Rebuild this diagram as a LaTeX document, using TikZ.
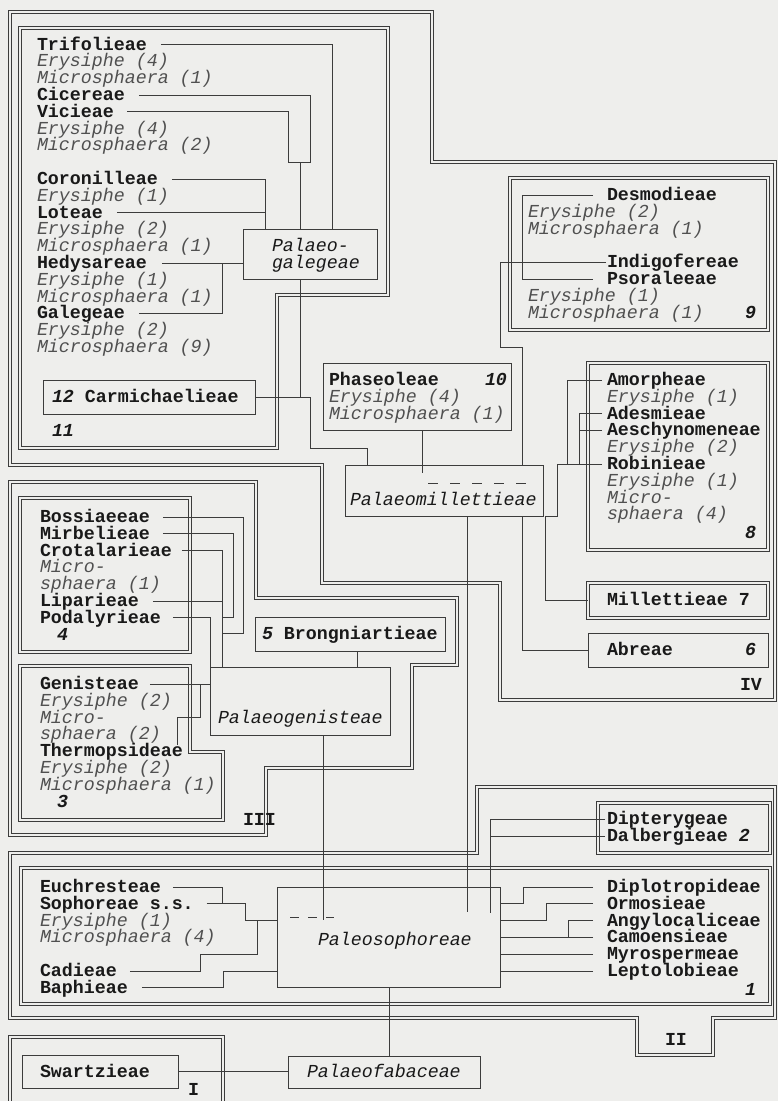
\documentclass[tikz,border=0pt]{standalone}
\usepackage{fontspec}
\newfontfamily\mono{Liberation Mono}
\definecolor{bg}{RGB}{238,238,236}
\definecolor{ln}{RGB}{60,60,60}
\definecolor{tx}{RGB}{25,25,25}
\definecolor{tl}{RGB}{80,80,80}
\tikzset{
 txt/.style={anchor=west, inner sep=0pt, outer sep=0pt, text height=11pt, text depth=0pt, text=tx},
 tb/.style={txt, font=\mono\fontsize{18.3}{18}\selectfont\bfseries},
 ti/.style={txt, font=\mono\fontsize{18.3}{18}\selectfont\itshape, text=tl},
 tk/.style={txt, font=\mono\fontsize{18.3}{18}\selectfont\itshape},
 tn/.style={txt, font=\mono\fontsize{18.3}{18}\selectfont\bfseries\itshape},
 con/.style={draw=ln, line width=0.7pt},
 sbox/.style={draw=ln, line width=0.8pt, anchor=north west, inner sep=0pt, outer sep=0pt},
 dbl/.style={draw=ln, line width=0.8pt, double=bg, double distance=2.6pt},
 dbox/.style={dbl, anchor=north west, inner sep=0pt, outer sep=0pt},
}
\begin{document}
\begin{tikzpicture}[x=1pt,y=-1pt]
\fill[bg] (0,0) rectangle (778,1101);
\useasboundingbox (0,0) rectangle (778,1101);

% ---------- group outlines ----------
\draw[dbl] (10,12) -- (432,12) -- (432,162) -- (775,162) -- (775,700) -- (500,700) -- (500,583) -- (322,583) -- (322,465) -- (10,465) -- cycle;
\draw[dbl] (20,28) -- (388,28) -- (388,295) -- (277,295) -- (277,448) -- (20,448) -- cycle;
\draw[dbl] (10,482) -- (256,482) -- (256,598) -- (457,598) -- (457,665) -- (412,665) -- (412,768) -- (266,768) -- (266,835) -- (10,835) -- cycle;
\draw[dbl] (20,666) -- (190,666) -- (190,752) -- (223,752) -- (223,820) -- (20,820) -- cycle;
\draw[dbl] (10,853) -- (477,853) -- (477,787) -- (775,787) -- (775,1018) -- (713,1018) -- (713,1055) -- (637,1055) -- (637,1018) -- (10,1018) -- cycle;
\draw[dbl] (10,1110) -- (10,1037) -- (223,1037) -- (223,1110);

% ---------- double boxes ----------
\node[dbox, minimum width=258, minimum height=152] (box9) at (510,178) {};
\node[dbox, minimum width=180, minimum height=187] (box8) at (588,363) {};
\node[dbox, minimum width=180, minimum height=35] (box7) at (588,583) {};
\node[dbox, minimum width=170, minimum height=154] (box4) at (20,498) {};
\node[dbox, minimum width=172, minimum height=50] (box2) at (598,803) {};
\node[dbox, minimum width=749, minimum height=136] (box1) at (21,868) {};

% ---------- single boxes ----------
\node[sbox, minimum width=134, minimum height=50] (pgal) at (243,229) {};
\node[sbox, minimum width=212, minimum height=34] (carm) at (43,380) {};
\node[sbox, minimum width=188, minimum height=67] (phas) at (323,363) {};
\node[sbox, minimum width=198, minimum height=51] (pmil) at (345,465) {};
\node[sbox, minimum width=180, minimum height=34] (abre) at (588,633) {};
\node[sbox, minimum width=190, minimum height=34] (brong) at (255,617) {};
\node[sbox, minimum width=180, minimum height=68] (pgen) at (210,667) {};
\node[sbox, minimum width=223, minimum height=100] (psoph) at (277,887) {};
\node[sbox, minimum width=156, minimum height=33] (swar) at (22,1055) {};
\node[sbox, minimum width=192, minimum height=32] (pfab) at (288,1056) {};

% ---------- box 11 texts ----------
\node[tb] (trif) at (37,44.5) {Trifolieae};
\node[ti] (e1) at (37,61.3) {Erysiphe (4)};
\node[ti] (m1) at (37,78.1) {Microsphaera (1)};
\node[tb] (cice) at (37,94.9) {Cicereae};
\node[tb] (vici) at (37,111.7) {Vicieae};
\node[ti] (e2) at (37,128.5) {Erysiphe (4)};
\node[ti] (m2) at (37,145.3) {Microsphaera (2)};
\node[tb] (coro) at (37,178.9) {Coronilleae};
\node[ti] (e3) at (37,195.7) {Erysiphe (1)};
\node[tb] (lote) at (37,212.5) {Loteae};
\node[ti] (e4) at (37,229.3) {Erysiphe (2)};
\node[ti] (m4) at (37,246.1) {Microsphaera (1)};
\node[tb] (hedy) at (37,262.9) {Hedysareae};
\node[ti] (e5) at (37,279.7) {Erysiphe (1)};
\node[ti] (m5) at (37,296.5) {Microsphaera (1)};
\node[tb] (gale) at (37,313.3) {Galegeae};
\node[ti] (e6) at (37,330.1) {Erysiphe (2)};
\node[ti] (m6) at (37,346.9) {Microsphaera (9)};
\node[tb] (carmt) at (52,397) {\textit{12} Carmichaelieae};
\node[tn] (n11) at (52,431) {11};
\node[tk] (pgal1) at (272,246) {Palaeo-};
\node[tk] (pgal2) at (272,263) {galegeae};

% ---------- box 9 texts ----------
\node[tb] (desm) at (607,195) {Desmodieae};
\node[ti] (e9a) at (528,211.8) {Erysiphe (2)};
\node[ti] (m9a) at (528,228.6) {Microsphaera (1)};
\node[tb] (indi) at (607,262.2) {Indigofereae};
\node[tb] (psor) at (607,279) {Psoraleeae};
\node[ti] (e9b) at (528,295.8) {Erysiphe (1)};
\node[ti] (m9b) at (528,312.6) {Microsphaera (1)};
\node[tn] (n9) at (745,312.6) {9};

% ---------- box 10 / Palaeomillettieae ----------
\node[tb] (phast) at (329,380) {Phaseoleae};
\node[tn] (n10) at (485,380) {10};
\node[ti] (e10) at (329,396.8) {Erysiphe (4)};
\node[ti] (m10) at (329,413.6) {Microsphaera (1)};
\node[tk] (pmilt) at (350,500) {Palaeomillettieae};

% ---------- box 8 ----------
\node[tb] (amor) at (607,380) {Amorpheae};
\node[ti] (e8a) at (607,396.8) {Erysiphe (1)};
\node[tb] (ades) at (607,413.6) {Adesmieae};
\node[tb] (aesc) at (607,430.4) {Aeschynomeneae};
\node[ti] (e8b) at (607,447.2) {Erysiphe (2)};
\node[tb] (robi) at (607,464) {Robinieae};
\node[ti] (e8c) at (607,480.8) {Erysiphe (1)};
\node[ti] (m8a) at (607,497.6) {Micro-};
\node[ti] (m8b) at (607,514.4) {sphaera (4)};
\node[tn] (n8) at (745,533) {8};
\node[tb] (mill) at (607,600) {Millettieae 7};
\node[tb] (abret) at (607,650) {Abreae};
\node[tn] (n6) at (745,650) {6};
\node[tb] (lIV) at (740,685) {IV};

% ---------- box 4 ----------
\node[tb] (boss) at (40,517) {Bossiaeeae};
\node[tb] (mirb) at (40,533.8) {Mirbelieae};
\node[tb] (crot) at (40,550.6) {Crotalarieae};
\node[ti] (m4a) at (40,567.4) {Micro-};
\node[ti] (m4b) at (40,584.2) {sphaera (1)};
\node[tb] (lipa) at (40,601) {Liparieae};
\node[tb] (poda) at (40,617.8) {Podalyrieae};
\node[tn] (n4) at (57,634.6) {4};
\node[tb] (brongt) at (262,634) {\textit{5} Brongniartieae};
\node[tk] (pgent) at (218,718) {Palaeogenisteae};

% ---------- box 3 ----------
\node[tb] (geni) at (40,684) {Genisteae};
\node[ti] (e3a) at (40,700.8) {Erysiphe (2)};
\node[ti] (m3a) at (40,717.6) {Micro-};
\node[ti] (m3b) at (40,734.4) {sphaera (2)};
\node[tb] (ther) at (40,751.2) {Thermopsideae};
\node[ti] (e3b) at (40,768) {Erysiphe (2)};
\node[ti] (m3c) at (40,784.8) {Microsphaera (1)};
\node[tn] (n3) at (57,801.6) {3};
\node[tb] (lIII) at (243,820) {III};

% ---------- box 2 / box 1 ----------
\node[tb] (dipt) at (607,819) {Dipterygeae};
\node[tb] (dalb) at (607,836) {Dalbergieae \textit{2}};
\node[tb] (euch) at (40,887) {Euchresteae};
\node[tb] (soph) at (40,903.8) {Sophoreae s.s.};
\node[ti] (e1a) at (40,920.6) {Erysiphe (1)};
\node[ti] (m1a) at (40,937.4) {Microsphaera (4)};
\node[tb] (cadi) at (40,971) {Cadieae};
\node[tb] (baph) at (40,987.8) {Baphieae};
\node[tk] (psopht) at (318,940) {Paleosophoreae};
\node[tb] (dipl) at (607,887) {Diplotropideae};
\node[tb] (ormo) at (607,903.8) {Ormosieae};
\node[tb] (angy) at (607,920.6) {Angylocaliceae};
\node[tb] (camo) at (607,937.4) {Camoensieae};
\node[tb] (myro) at (607,954.2) {Myrospermeae};
\node[tb] (lept) at (607,971) {Leptolobieae};
\node[tn] (n1) at (745,990) {1};
\node[tb] (lII) at (665,1040) {II};

% ---------- group I ----------
\node[tb] (swart) at (40,1072) {Swartzieae};
\node[tb] (lI) at (188,1090) {I};
\node[tk] (pfabt) at (307,1072) {Palaeofabaceae};

% ---------- connectors: box 11 ----------
\draw[con] ([xshift=14pt]trif.east) -| (332,229);
\draw[con] ([xshift=14pt]cice.east) -| (310,162) -- (288,162) |- ([xshift=13pt]vici.east);
\draw[con] (300,162) -- (300,229);
\draw[con] ([xshift=14pt]coro.east) -| (265,229);
\draw[con] ([xshift=14pt]lote.east) -- (265,212.5);
\draw[con] ([xshift=15pt]hedy.east) -- (hedy.east -| pgal.west);
\draw[con] ([xshift=14pt]gale.east) -| (222,262.9);
\draw[con] (300,279) -- (300,397);
\draw[con] (carm.east) -- (310,397) -- (310,448) -- (367,448) -- (367,465);

% ---------- connectors: box 9 / 10 ----------
\draw[con] ([xshift=-14pt]desm.west) -- (522,195) -- (522,279) -- ([xshift=-14pt]psor.west);
\draw[con] ([xshift=-1pt]indi.west) -- (500,262.2) -- (500,347) -- (522,347) -- (522,465);
\draw[con] (422,430) -- (422,473);
\draw[con, dash pattern=on 10pt off 12pt] (428,483) -- (528,483);

% ---------- connectors: box 8 / 7 / 6 ----------
\draw[con] ([xshift=-5pt]amor.west) -- (567,380) -- (567,464);
\draw[con] ([xshift=-5pt]ades.west) -- (579,413.6) -- (579,464);
\draw[con] ([xshift=-5pt]aesc.west) -- (579,430.4);
\draw[con] ([xshift=-5pt]robi.west) -- (557,464) -- (557,516) -- (545,516) |- (box7.west);
\draw[con] (522,516) |- (abre.west);

% ---------- connectors: group III ----------
\draw[con] ([xshift=13pt]boss.east) -| (243,633) -- (222,633);
\draw[con] ([xshift=13pt]mirb.east) -| (233,617.8) -- (222,617.8);
\draw[con] ([xshift=10pt]crot.east) -| (222,667);
\draw[con] ([xshift=14pt]lipa.east) -- (222,601);
\draw[con] ([xshift=12pt]poda.east) -| (210,667);
\draw[con] ([xshift=11pt]geni.east) -- (geni.east -| pgen.west);
\draw[con] (177,745) -- (177,717.6) -- (200,717.6) -- (200,684);
\draw[con] (357,651) -- (357,667);
\draw[con] (323,735) -- (323,920);

% ---------- connectors: group II ----------
\draw[con] (467,516) -- (467,912);
\draw[con] ([xshift=-2pt]dipt.west) -- (490,819) -- (490,913);
\draw[con] ([xshift=-2pt]dalb.west) -- (490,836);
\draw[con] ([xshift=12pt]euch.east) -| (222,903.8);
\draw[con] ([xshift=13pt]soph.east) -| (245,920.6) -- (277,920.6);
\draw[con] ([xshift=13pt]cadi.east) -| (200,954.2) -| (257,920.6);
\draw[con] ([xshift=14pt]baph.east) -| (223,971) -- (277,971);
\draw[con, dash pattern=on 9pt off 9pt] (290,917) -- (334,917);
\draw[con] ([xshift=-14pt]dipl.west) -- (523,887) -- (523,903.8) -- (500,903.8);
\draw[con] ([xshift=-14pt]ormo.west) -- (546,903.8) -- (546,920.6) -- (500,920.6);
\draw[con] ([xshift=-14pt]angy.west) -- (568,920.6) -- (568,937.4);
\draw[con] ([xshift=-14pt]camo.west) -- (500,937.4);
\draw[con, line width=1.1pt] ([xshift=-14pt]myro.west) -- (500,954.2);
\draw[con] ([xshift=-14pt]lept.west) -- (500,971);
\draw[con] (389,987) -- (389,1056);
\draw[con] (swar.east) -- (pfab.west |- swar.east);
\end{tikzpicture}
\end{document}
